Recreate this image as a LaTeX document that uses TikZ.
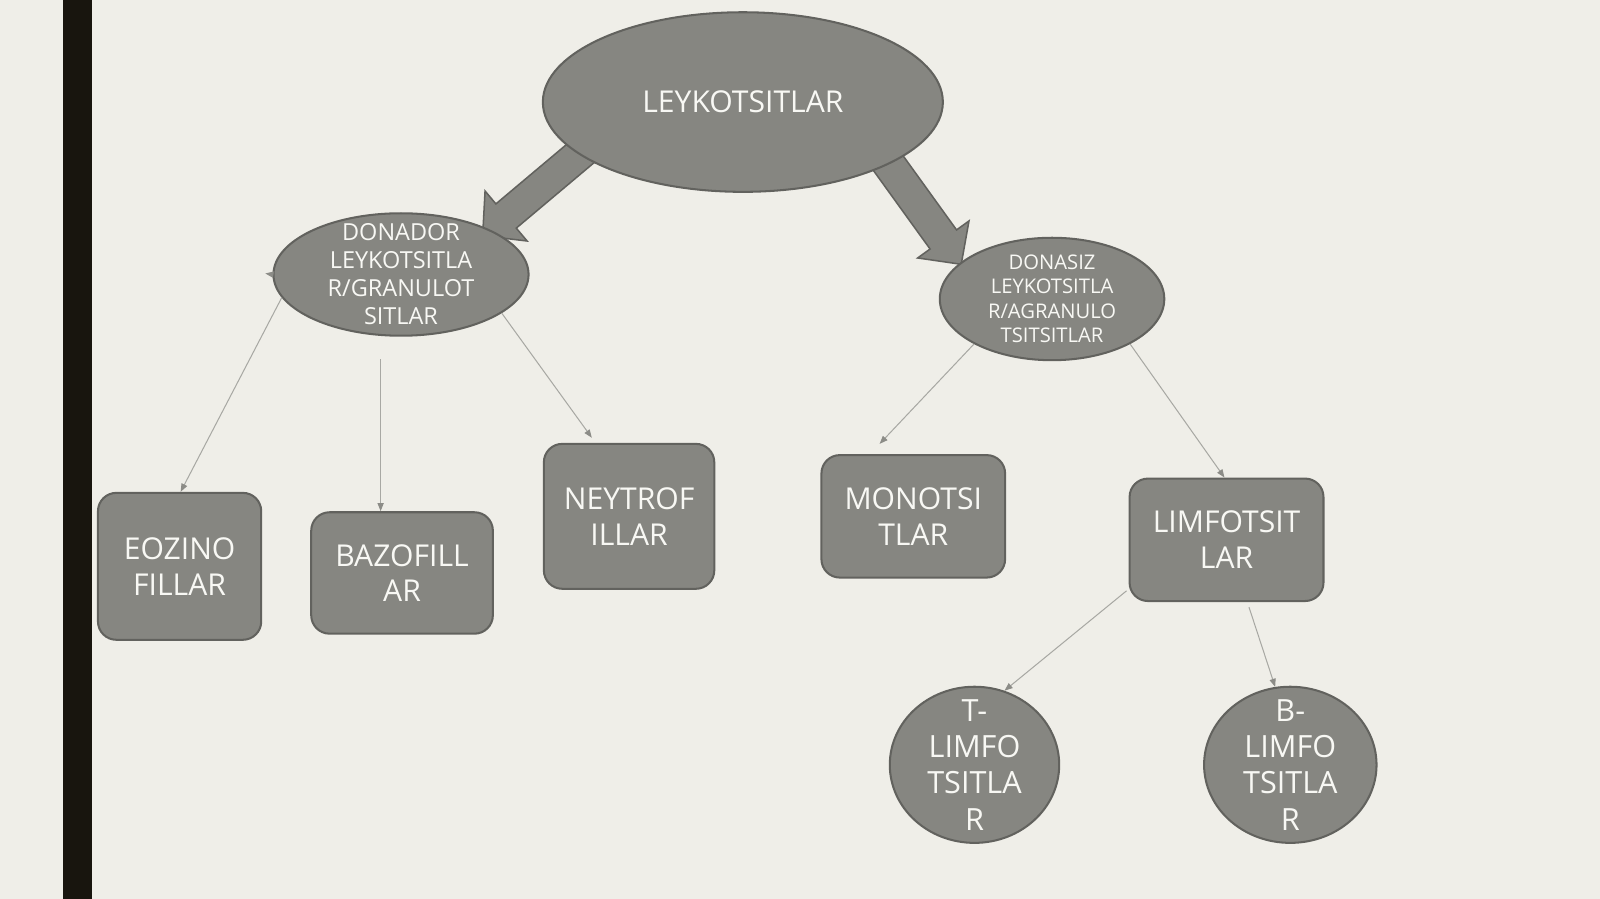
\documentclass[tikz,border=0pt]{standalone}
\usepackage{fontspec}
\setmainfont{Open Sans}
\usetikzlibrary{shapes.geometric,arrows.meta,calc}
\definecolor{bg}{RGB}{239,238,232}
\definecolor{barc}{RGB}{24,21,14}
\definecolor{nfill}{RGB}{134,134,129}
\definecolor{nborder}{RGB}{98,98,94}
\definecolor{thinc}{RGB}{168,168,163}
\definecolor{tipc}{RGB}{140,140,135}
\definecolor{txt}{RGB}{248,248,244}
\begin{document}
\begin{tikzpicture}[x=1pt,y=-1pt,
  ell/.style={ellipse, fill=nfill, draw=nborder, line width=2pt, inner sep=0pt},
  lbl/.style={text=txt, align=center, inner sep=0pt},
  box/.style={rectangle, rounded corners=18pt, fill=nfill, draw=nborder, line width=2pt,
    text=txt, align=center, inner sep=0pt, font=\fontsize{29.5}{35}\selectfont},
  thinarrow/.style={draw=thinc, line width=1pt, -{Triangle[length=8pt,width=6pt,color=tipc]}},
  bigarrow/.style={fill=nfill, draw=nborder, line width=1.5pt, line join=miter}
]
\useasboundingbox (0,0) rectangle (1568,881);
\fill[bg] (0,0) rectangle (1568,881);
\fill[barc] (61.5,0) rectangle (90.5,881);

% thick arrows (behind the ellipses)
\coordinate (ls) at (580,141);
\coordinate (lt) at (473,231);
\coordinate (lb) at ($(lt)!30pt!(ls)$);
\draw[bigarrow] ($(ls)!15.5pt!90:(lt)$) -- ($(lb)!15.5pt!90:(lt)$) -- ($(lb)!32pt!90:(lt)$)
  -- (lt) -- ($(lb)!32pt!-90:(lt)$) -- ($(lb)!15.5pt!-90:(lt)$) -- ($(ls)!15.5pt!-90:(lt)$) -- cycle;
\coordinate (rs) at (854,137);
\coordinate (rt) at (942,259);
\coordinate (rb) at ($(rt)!30pt!(rs)$);
\draw[bigarrow] ($(rs)!16pt!90:(rt)$) -- ($(rb)!16pt!90:(rt)$) -- ($(rb)!31pt!90:(rt)$)
  -- (rt) -- ($(rb)!31pt!-90:(rt)$) -- ($(rb)!16pt!-90:(rt)$) -- ($(rs)!16pt!-90:(rt)$) -- cycle;

% ellipses
\node[ell, minimum width=392pt, minimum height=176pt,
  label={[lbl, font=\fontsize{29.5}{35}\selectfont]center:LEYKOTSITLAR}] (top) at (728,100) {};
\node[ell, minimum width=250pt, minimum height=120pt,
  label={[lbl, font=\fontsize{23}{27.5}\selectfont]center:DONADOR\\LEYKOTSITLA\\R/GRANULOT\\SITLAR}] (don) at (393,269) {};
\node[ell, minimum width=220pt, minimum height=120pt,
  label={[lbl, font=\fontsize{19.8}{24}\selectfont]center:DONASIZ\\LEYKOTSITLA\\R/AGRANULO\\TSITSITLAR}] (dsz) at (1031,293) {};

% boxes
\node[box, minimum width=160pt, minimum height=144pt] (eoz) at (176,555) {EOZINO\\FILLAR};
\node[box, minimum width=178pt, minimum height=119pt] (baz) at (394,561.5) {BAZOFILL\\AR};
\node[box, minimum width=167pt, minimum height=142pt] (ney) at (616.5,506) {NEYTROF\\ILLAR};
\node[box, minimum width=180pt, minimum height=120pt] (mon) at (895,506) {MONOTSI\\TLAR};
\node[box, minimum width=190pt, minimum height=120pt] (lim) at (1202,529) {LIMFOTSIT\\LAR};

% circles
\node[ell, minimum width=166pt, minimum height=153pt,
  label={[lbl, font=\fontsize{30}{35.5}\selectfont]center:T-\\LIMFO\\TSITLA\\R}] (tl) at (955,749.5) {};
\node[ell, minimum width=169pt, minimum height=153pt,
  label={[lbl, font=\fontsize{30}{35.5}\selectfont]center:B-\\LIMFO\\TSITLA\\R}] (bl) at (1264.5,749.5) {};

% thin connectors
\coordinate (bazs) at (373,352);
\coordinate (stub) at (260,268);
\draw[thinarrow] (don.west) -- (stub);
\draw[thinarrow] (don.191) -- ($(eoz.north)+(1,0)$);
\draw[thinarrow] (bazs) -- (bazs |- baz.north);
\draw[thinarrow] (don.-21) -- ($(ney.north west)+(48,-5)$);
\draw[thinarrow] (dsz.210) -- ($(mon.north west)+(58,-10)$);
\draw[thinarrow] (dsz.330) -- ($(lim.north)+(-2,0)$);
\draw[thinarrow] ($(lim.south west)+(-2,-11)$) -- (tl.68);
\draw[thinarrow] ($(lim.south)+(22,5)$) -- (bl.101);
\end{tikzpicture}
\end{document}
